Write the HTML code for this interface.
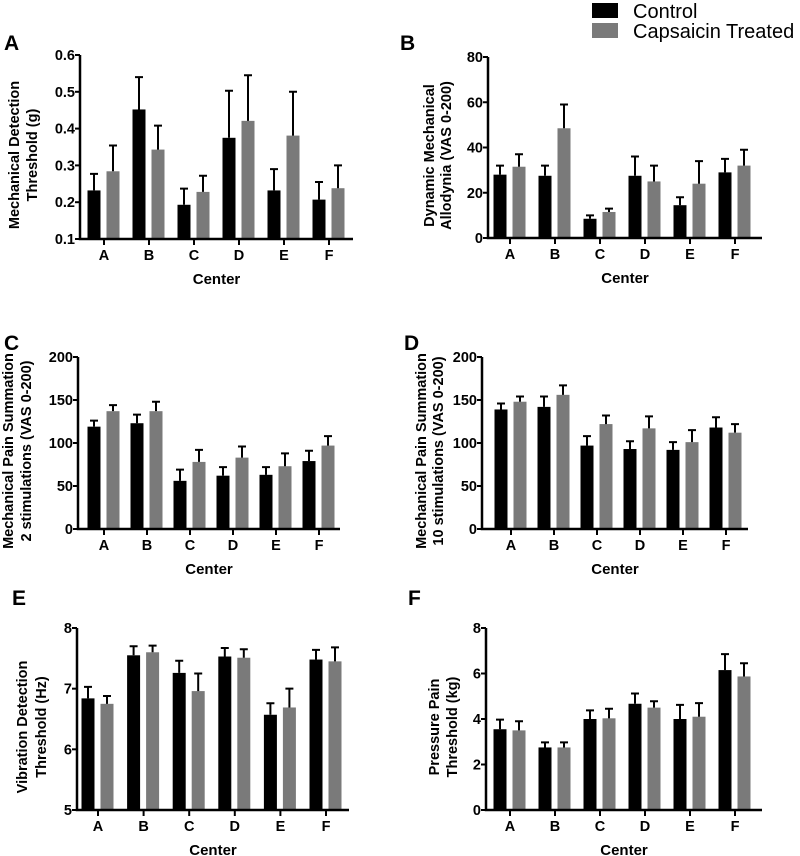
<!DOCTYPE html>
<html><head><meta charset="utf-8"><style>
html,body{margin:0;padding:0;background:#fff;}
svg{display:block;}
svg text{font-family:"Liberation Sans",Arial,sans-serif;font-weight:bold;}
svg text.lg{font-weight:normal;}
</style></head><body>
<svg id="fig" width="800" height="856" viewBox="0 0 800 856" xmlns="http://www.w3.org/2000/svg">
<g>
<rect x="592" y="3" width="26" height="15" fill="#000"/>
<text class="lg" x="633" y="18" font-size="20">Control</text>
<rect x="592" y="23" width="26" height="15" fill="#7a7a7a"/>
<text class="lg" x="633" y="38" font-size="20">Capsaicin Treated</text>
</g>
</svg>
<script>
const categories = ["A","B","C","D","E","F"];
const aCtrl = [0.232,0.452,0.193,0.375,0.232,0.207];
const aCtrlErr = [0.277,0.54,0.237,0.503,0.29,0.255];
const aCaps = [0.284,0.343,0.228,0.421,0.381,0.238];
const aCapsErr = [0.354,0.408,0.272,0.545,0.5,0.3];
const aTicks = [0.1,0.2,0.3,0.4,0.5,0.6];
const bCtrl = [28,27.5,8.5,27.5,14.5,29];
const bCtrlErr = [32,32,10,36,18,35];
const bCaps = [31.5,48.5,11.5,25,24,32];
const bCapsErr = [37,59,13,32,34,39];
const bTicks = [0,20,40,60,80];
const cCtrl = [119,123,56,62,63,79];
const cCtrlErr = [126,133,69,72,72,91];
const cCaps = [137,137,78,83,73,97];
const cCapsErr = [144,148,92,96,88,108];
const cTicks = [0,50,100,150,200];
const dCtrl = [139,142,97,93,92,118];
const dCtrlErr = [146,154,108,102,101,130];
const dCaps = [148,156,122,117,101,112];
const dCapsErr = [154,167,132,131,115,122];
const dTicks = [0,50,100,150,200];
const eCtrl = [6.84,7.55,7.26,7.53,6.57,7.48];
const eCtrlErr = [7.03,7.7,7.46,7.67,6.76,7.64];
const eCaps = [6.75,7.6,6.96,7.51,6.69,7.45];
const eCapsErr = [6.88,7.71,7.25,7.65,7.0,7.68];
const eTicks = [5,6,7,8];
const fCtrl = [3.55,2.75,4.0,4.67,4.0,6.15];
const fCtrlErr = [3.97,2.97,4.38,5.12,4.62,6.85];
const fCaps = [3.5,2.75,4.03,4.5,4.1,5.87];
const fCapsErr = [3.9,2.97,4.45,4.78,4.7,6.45];
const fTicks = [0,2,4,6,8];

const NS="http://www.w3.org/2000/svg";
const svg=document.getElementById('fig');
function mk(tag,attrs,parent){const e=document.createElementNS(NS,tag);for(const k in attrs)e.setAttribute(k,attrs[k]);(parent||svg).appendChild(e);return e;}

const panels=[
 {id:'a',letter:'A',lx:4,ly:50,ax:80,top:55,bot:239,xEnd:353,t0:104,sp:45,ctrl:aCtrl,ce:aCtrlErr,caps:aCaps,pe:aCapsErr,ticks:aTicks,fmt:v=>v.toFixed(1),t1:['Mechanical Detection','Threshold (g)'],tx:[19,37]},
 {id:'b',letter:'B',lx:400,ly:50,ax:488,top:57,bot:238,xEnd:762,t0:510,sp:45,ctrl:bCtrl,ce:bCtrlErr,caps:bCaps,pe:bCapsErr,ticks:bTicks,fmt:v=>String(v),t1:['Dynamic Mechanical','Allodynia (VAS 0-200)'],tx:[434,451]},
 {id:'c',letter:'C',lx:4,ly:350,ax:78,top:357,bot:529,xEnd:340,t0:104,sp:43,ctrl:cCtrl,ce:cCtrlErr,caps:cCaps,pe:cCapsErr,ticks:cTicks,fmt:v=>String(v),t1:['Mechanical Pain Summation','2 stimulations (VAS 0-200)'],tx:[13,31]},
 {id:'d',letter:'D',lx:404,ly:350,ax:482,top:357,bot:529,xEnd:748,t0:511,sp:43,ctrl:dCtrl,ce:dCtrlErr,caps:dCaps,pe:dCapsErr,ticks:dTicks,fmt:v=>String(v),t1:['Mechanical Pain Summation','10 stimulations (VAS 0-200)'],tx:[426,443]},
 {id:'e',letter:'E',lx:12,ly:605,ax:77,top:628,bot:810,xEnd:349,t0:98,sp:45.6,ctrl:eCtrl,ce:eCtrlErr,caps:eCaps,pe:eCapsErr,ticks:eTicks,fmt:v=>String(v),t1:['Vibration Detection','Threshold (Hz)'],tx:[27,46]},
 {id:'f',letter:'F',lx:408,ly:605,ax:486,top:628,bot:810,xEnd:762,t0:510,sp:45,ctrl:fCtrl,ce:fCtrlErr,caps:fCaps,pe:fCapsErr,ticks:fTicks,fmt:v=>String(v),t1:['Pressure Pain','Threshold (kg)'],tx:[439,457]}
];

panels.forEach(p=>{
 const g=mk('g',{});
 
 
 const mn=p.ticks[0],mx=p.ticks[p.ticks.length-1];
 const y=v=>p.bot-(v-mn)/(mx-mn)*(p.bot-p.top);
 const x=i=>p.t0+i*p.sp;
 const lab=mk('text',{x:p.lx,y:p.ly,'font-size':21},g);lab.textContent=p.letter;
 
 
 categories.forEach((c,i)=>{
  [[p.ctrl,p.ce,'#000',-10,'control'],[p.caps,p.pe,'#7a7a7a',9,'capsaicin']].forEach(s=>{
   const cx=x(i)+s[3],v=s[0][i],e=s[1][i];
   const r=mk('rect',{x:cx-6.5,y:y(v),width:13,height:p.bot-y(v),fill:s[2]},g);
   
   
   const eb=mk('path',{d:`M${cx},${y(v)}V${y(e)}M${cx-4},${y(e)}H${cx+4}`,stroke:'#000','stroke-width':2,fill:'none'},g);
   
   
  });
  const tk=mk('line',{x1:x(i),x2:x(i),y1:p.bot,y2:p.bot+6,stroke:'#000','stroke-width':2},g);
  
  
  const tl=mk('text',{x:x(i),y:p.bot+21,'font-size':14.5,'text-anchor':'middle'},g);tl.textContent=c;
  
  
 });
 const axes=mk('path',{d:`M${p.ax},${p.top}V${p.bot}H${p.xEnd}`,stroke:'#000','stroke-width':2.5,fill:'none'},g);
 
 
 p.ticks.forEach(t=>{
  const l=mk('line',{x1:p.ax-5,x2:p.ax,y1:y(t),y2:y(t),stroke:'#000','stroke-width':2},g);
  
  
  const tt=mk('text',{x:p.ax-5,y:y(t)+5,'font-size':14.5,'text-anchor':'end'},g);tt.textContent=p.fmt(t);
  
  
 });
 const xt=mk('text',{x:(p.ax+p.xEnd)/2,y:p.bot+45,'font-size':15,'text-anchor':'middle'},g);xt.textContent='Center';
 
 
 const cy=(p.top+p.bot)/2+8;
 p.t1.forEach((s,k)=>{
  const yt=mk('text',{x:p.tx[k],y:cy,'font-size':14.5,'text-anchor':'middle',transform:`rotate(-90 ${p.tx[k]} ${cy})`},g);yt.textContent=s;
  
  
 });
});
</script>
</body></html>
